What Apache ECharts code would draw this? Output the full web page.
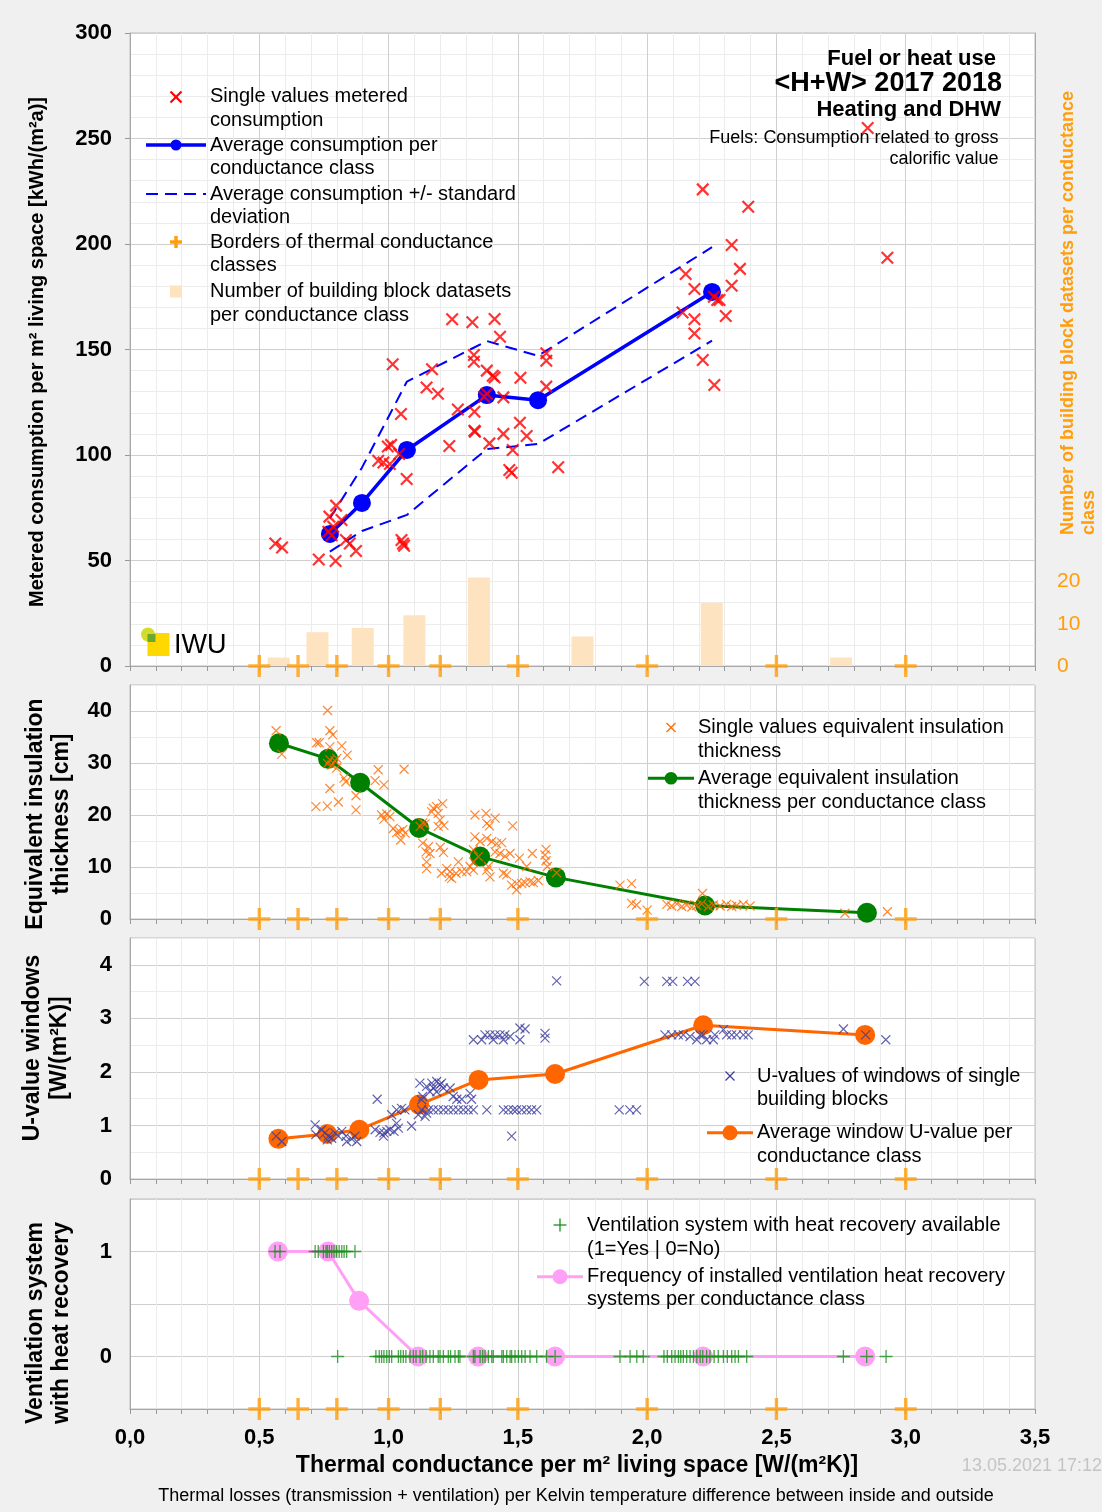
<!DOCTYPE html>
<html><head><meta charset="utf-8">
<script src="https://cdn.jsdelivr.net/npm/echarts@6/dist/echarts.min.js"></script>
<style>html,body{margin:0;padding:0;background:#f0f0f0}#c{width:1102px;height:1512px}</style>
</head><body><div id="c"></div>
<script>
// ---------- DATA ----------
const xTickValues = [0, 0.5, 1, 1.5, 2, 2.5, 3, 3.5];
const classBorders = [0.5, 0.65, 0.8, 1.0, 1.2, 1.5, 2.0, 2.5, 3.0];
const classCenters = [0.575, 0.725, 0.9, 1.1, 1.35, 1.75, 2.25, 2.75];
const datasetCounts = [2, 8, 9, 12, 21, 7, 15, 2];
const rightAxisLabels = [0, 10, 20];

const consumptionPoints = [
 [0.562,58.1],[0.588,56.2],[0.73,50.5],[0.795,49.8],[0.767,63.6],[0.78,62],[0.786,66],[0.771,70.8],[0.797,76],[0.818,69.2],[0.835,59.7],[0.85,58.1],[0.874,54.5],
 [0.96,97.3],[0.98,96.4],[1.005,95.7],[0.997,104],[1.01,104.8],[1.041,100.5],[1.048,119.4],[1.016,143],[1.07,88.6],[1.05,59.7],[1.056,58],[1.06,57],
 [1.147,132],[1.168,140.6],[1.191,129],[1.235,104.3],[1.246,164.3],[1.268,121.6],[1.324,162.9],[1.33,147.4],[1.33,144.2],[1.332,120.5],[1.332,111.5],[1.334,111],
 [1.37,127.6],[1.38,129],[1.38,140],[1.403,137.6],[1.41,136.8],[1.41,164.5],[1.431,156],[1.444,127.3],[1.39,105.5],[1.444,110],[1.48,102.4],[1.467,92.9],[1.476,91.6],
 [1.508,115.3],[1.51,136.6],[1.534,109],[1.61,148.2],[1.61,144.7],[1.61,132.4],[1.656,94.2],
 [2.137,167.5],[2.149,185.8],[2.183,178.7],[2.183,164.3],[2.183,157.6],[2.215,225.9],[2.215,145],[2.258,175],[2.271,173.5],[2.28,173.5],[2.26,133.2],
 [2.304,165.9],[2.327,199.5],[2.327,180.2],[2.359,188.2],[2.391,217.7],[2.853,255],[2.929,193.5]
];
const avgConsX = [0.773, 0.897, 1.071, 1.38, 1.578, 2.251];
const avgCons = [62.6, 77.3, 102.4, 128.4, 126, 177.3];
const avgConsPlusSd = [70, 94, 134.8, 154, 147, 198.5];
const avgConsMinusSd = [54.2, 64, 71.6, 102.8, 105.2, 154.2];

const insulationPoints = [
 [0.565,36.2],[0.587,31.7],[0.764,40.1],[0.773,36.2],[0.784,35.4],[0.722,33.9],[0.732,33.9],[0.773,33.1],[0.819,33.3],[0.84,31.5],
 [0.773,30.6],[0.793,30.4],[0.8,30.9],[0.764,29.9],[0.78,29.6],[0.799,29],[0.96,28.7],[1.06,28.8],[0.828,27.1],[0.835,26.4],[0.948,26.6],[0.982,25.8],[0.773,25.1],[0.874,23.7],[0.719,21.6],[0.763,21.7],[0.806,22.5],[0.874,21],
 [0.973,20],[0.993,20.2],[1.005,19.7],[0.982,19.2],[1.018,17.4],[1.042,16.8],[1.055,17.2],[1.031,16.6],[1.047,15.2],[1.064,16.5],[1.132,18.5],[1.122,17.8],[1.141,18.3],
 [1.173,21.3],[1.186,21.6],[1.167,20.6],[1.209,22.2],[1.192,20.3],[1.199,19],[1.214,18],[1.192,17.8],
 [1.132,14.6],[1.154,13.9],[1.145,12.9],[1.16,12.6],[1.147,11],[1.147,9.7],[1.2,13.8],[1.212,12.8],
 [1.205,8.8],[1.225,9.7],[1.238,9.1],[1.244,7.8],[1.235,8.1],[1.27,11],[1.261,8.8],[1.283,9.1],[1.302,9.1],[1.315,10.1],[1.328,9.4],
 [1.334,20],[1.377,20.3],[1.412,19.4],[1.38,18.4],[1.39,17.9],[1.334,15.8],[1.354,14.9],[1.38,15.5],[1.399,14.9],[1.418,14.5],[1.437,14.7],
 [1.328,13.3],[1.347,12],[1.328,11],[1.386,10.1],[1.38,9.4],[1.392,8.1],[1.412,12.9],[1.431,12.6],[1.45,12.1],[1.47,12.6],
 [1.444,8.8],[1.457,8.5],[1.476,6.5],[1.495,6.8],[1.515,6.8],[1.528,7],[1.547,7.2],[1.56,7],[1.579,7.4],[1.48,17.9],[1.506,11.7],[1.534,10.1],[1.556,12.6],
 [1.609,13.4],[1.605,12.3],[1.609,11.2],[1.614,10.1],[1.65,8.9],[1.495,5.6],
 [1.895,6.5],[1.94,6.8],[1.94,3],[1.959,2.7],[2.0,1.7],
 [2.076,2.8],[2.095,2.5],[2.115,2.9],[2.134,2.4],[2.153,2.7],[2.173,2.3],[2.192,2.6],[2.211,2.9],[2.237,2.4],[2.256,2.7],[2.282,2.5],[2.307,2.8],[2.327,2.4],[2.346,2.6],[2.372,2.8],[2.398,2.5],
 [2.214,4.9],[2.765,1.1],[2.929,1.4]
];
const avgInsX = [0.576, 0.766, 0.89, 1.118, 1.354, 1.647, 2.224, 2.85];
const avgIns = [33.8, 30.8, 26.2, 17.5, 12, 8, 2.6, 1.2];

const uValuePoints = [
 [0.565,0.8],[0.587,0.7],
 [0.716,1.01],[0.719,0.83],[0.741,0.92],[0.754,0.86],[0.767,0.8],[0.78,0.76],[0.793,0.86],[0.806,0.8],[0.819,0.89],[0.835,0.8],[0.838,0.7],[0.857,0.75],[0.87,0.8],[0.877,0.7],[0.763,0.73],
 [0.956,1.49],[0.948,0.92],[0.967,0.87],[0.98,0.8],[0.993,0.89],[1.005,0.92],[1.021,0.89],[1.038,0.95],[0.982,0.86],
 [1.012,1.2],[1.031,1.04],[1.089,0.99],[1.031,1.29],[1.05,1.32],[1.063,1.29],
 [1.121,1.79],[1.147,1.73],[1.167,1.79],[1.186,1.82],[1.199,1.76],[1.205,1.79],[1.173,1.7],[1.16,1.63],[1.186,1.63],[1.212,1.7],
 [1.238,1.7],[1.25,1.54],[1.264,1.49],[1.283,1.49],[1.315,1.6],[1.321,1.49],[1.115,1.2],[1.128,1.29],[1.147,1.23],[1.141,1.17],[1.128,1.48],[1.132,1.54],
 [1.154,1.29],[1.173,1.29],[1.192,1.29],[1.212,1.29],[1.231,1.29],[1.25,1.29],[1.27,1.29],[1.289,1.29],[1.308,1.29],[1.328,1.29],[1.38,1.29],
 [1.444,1.29],[1.463,1.29],[1.482,1.29],[1.495,1.29],[1.515,1.29],[1.534,1.29],[1.553,1.29],[1.573,1.29],[1.476,0.8],
 [1.328,2.6],[1.373,2.69],[1.392,2.69],[1.412,2.69],[1.431,2.69],[1.45,2.69],[1.47,2.66],[1.36,2.6],[1.405,2.6],[1.444,2.6],[1.508,2.6],[1.508,2.82],[1.528,2.8],[1.605,2.72],[1.605,2.63],
 [1.65,3.7],[1.892,1.29],[1.933,1.29],[1.959,1.29],
 [1.989,3.69],[2.076,3.69],[2.099,3.69],[2.156,3.69],[2.185,3.69],
 [2.069,2.69],[2.095,2.69],[2.121,2.69],[2.14,2.69],[2.166,2.66],[2.192,2.6],[2.205,2.69],[2.23,2.6],[2.256,2.6],[2.262,2.69],[2.295,2.79],[2.307,2.69],[2.327,2.69],[2.346,2.69],[2.372,2.69],[2.391,2.69],[2.217,2.69],
 [2.759,2.8],[2.845,2.69],[2.923,2.6]
];
const avgUX = [0.574, 0.763, 0.887, 1.118, 1.348, 1.644, 2.217, 2.843];
const avgU = [0.75, 0.84, 0.92, 1.39, 1.85, 1.96, 2.87, 2.69];

const ventYesX = [0.561,0.58,0.716,0.728,0.748,0.758,0.763,0.771,0.78,0.789,0.799,0.809,0.819,0.828,0.838,0.87];
const ventNoX = [0.803,0.951,0.964,0.973,0.982,0.993,1.003,1.012,1.038,1.047,1.057,1.067,1.083,1.096,1.106,1.122,1.132,1.145,1.16,1.173,1.192,1.199,1.212,1.231,1.24,1.257,1.27,1.276,
 1.328,1.334,1.354,1.364,1.373,1.386,1.399,1.405,1.438,1.444,1.457,1.47,1.476,1.489,1.502,1.515,1.528,1.547,1.573,1.611,1.644,1.895,1.934,1.96,1.985,
 2.065,2.078,2.095,2.108,2.121,2.13,2.14,2.153,2.166,2.179,2.192,2.205,2.215,2.23,2.243,2.259,2.275,2.295,2.31,2.327,2.34,2.353,2.385,2.759,2.849,2.924];
const avgVentX = [0.572, 0.766, 0.886, 1.114, 1.346, 1.644, 2.216, 2.843];
const avgVent = [1, 1, 0.53, 0, 0, 0, 0, 0];

const borderMarkerLevel = [0, 0, 0, -0.5];

// ---------- RENDER ----------
const FONT = '"Liberation Sans", Arial, Helvetica, sans-serif';
const zip = (xs, ys) => xs.map((x, i) => [x, ys[i]]);
const XSYM = 'path://M0,0L10,10M10,0L0,10';
const PSYM = 'path://M5,0L5,10M0,5L10,5';
const BIGPLUS = 'path://M0,9.3H9.3V0H12.7V9.3H22V12.7H12.7V22H9.3V12.7H0Z';
const ORANGE = '#ff9d0a';

const grids = [
  {left:130, top:33, width:905, height:633},
  {left:130, top:685, width:905, height:234},
  {left:130, top:938, width:905, height:241},
  {left:130, top:1199, width:905, height:210}
].map(g => Object.assign(g, {show:true, backgroundColor:'#ffffff', borderColor:'#bdbdbd', borderWidth:1, containLabel:false, outerBoundsMode:'none'}));

function xAx(gi, labels) {
  return {
    type:'value', gridIndex:gi, min:0, max:3.5, interval:0.5,
    axisLine:{show:true, onZero:false, lineStyle:{color:'#a8a8a8'}},
    axisTick:{show:true, length:5, lineStyle:{color:'#999'}},
    minorTick:{show:true, splitNumber:5, length:5, lineStyle:{color:'#999'}},
    splitLine:{show:true, lineStyle:{color:'#cfcfcf'}},
    minorSplitLine:{show:true, lineStyle:{color:'#ececec'}},
    axisLabel:{show:labels, fontFamily:FONT, fontSize:22, fontWeight:'bold', color:'#000', margin:18,
      formatter: v => xTickValues.some(t => Math.abs(t - v) < 1e-6) ? v.toFixed(1).replace('.', ',') : ''}
  };
}
const yLabel = {fontFamily:FONT, fontSize:22, fontWeight:'bold', color:'#000', margin:18};
const yAxes = [
  {type:'value', gridIndex:0, min:0, max:300, interval:50,
   axisLine:{show:true, onZero:false, lineStyle:{color:'#a8a8a8'}}, axisTick:{show:true, length:5, lineStyle:{color:'#999'}},
   minorTick:{show:false, splitNumber:5}, splitLine:{show:true, lineStyle:{color:'#cfcfcf'}},
   minorSplitLine:{show:true, lineStyle:{color:'#ececec'}}, axisLabel:yLabel},
  {type:'value', gridIndex:0, position:'right', min:0, max:150, interval:10,
   axisLine:{show:true, onZero:false, lineStyle:{color:'#a8a8a8'}}, axisTick:{show:false}, splitLine:{show:false},
   axisLabel:{fontFamily:FONT, fontSize:21, color:ORANGE, margin:22,
     formatter: v => rightAxisLabels.indexOf(v) >= 0 ? String(v) : ''}},
  {type:'value', gridIndex:1, min:0, max:45, interval:5,
   axisLine:{show:true, onZero:false, lineStyle:{color:'#a8a8a8'}}, axisTick:{show:false},
   splitLine:{show:true, lineStyle:{color:['#cfcfcf', '#ececec']}},
   axisLabel:Object.assign({}, yLabel, {formatter: v => (v % 10 === 0 && v <= 40) ? String(v) : ''})},
  {type:'value', gridIndex:2, min:0, max:4.5, interval:0.5,
   axisLine:{show:true, onZero:false, lineStyle:{color:'#a8a8a8'}}, axisTick:{show:false},
   splitLine:{show:true, lineStyle:{color:['#cfcfcf', '#ececec']}},
   axisLabel:Object.assign({}, yLabel, {formatter: v => (Math.abs(v - Math.round(v)) < 1e-6 && v <= 4) ? String(Math.round(v)) : ''})},
  {type:'value', gridIndex:3, min:-0.5, max:1.5, interval:0.5,
   axisLine:{show:true, onZero:false, lineStyle:{color:'#a8a8a8'}}, axisTick:{show:false},
   splitLine:{show:true, lineStyle:{color:'#cfcfcf'}},
   axisLabel:Object.assign({}, yLabel, {formatter: v => (v === 0 || v === 1) ? String(v) : ''})}
];

const series = [];
// panel 1
series.push({type:'bar', xAxisIndex:0, yAxisIndex:1, data:zip(classCenters, datasetCounts), barWidth:22,
  itemStyle:{color:'#fde3bf'}, z:1, silent:true});
series.push({type:'line', xAxisIndex:0, yAxisIndex:0, data:zip(avgConsX, avgConsPlusSd), symbol:'none',
  lineStyle:{color:'#0000ff', width:2, type:[12,7]}, z:3});
series.push({type:'line', xAxisIndex:0, yAxisIndex:0, data:zip(avgConsX, avgConsMinusSd), symbol:'none',
  lineStyle:{color:'#0000ff', width:2, type:[12,7]}, z:3});
series.push({type:'line', xAxisIndex:0, yAxisIndex:0, data:zip(avgConsX, avgCons), symbol:'circle', symbolSize:18,
  lineStyle:{color:'#0000ff', width:3.5}, itemStyle:{color:'#0000ff'}, z:4});
series.push({type:'scatter', xAxisIndex:0, yAxisIndex:0, data:consumptionPoints, symbol:XSYM, symbolSize:11.5, clip:false,
  itemStyle:{color:'rgba(0,0,0,0)', borderColor:'#ff0000', borderWidth:2.2}, z:5});
// panel 2
series.push({type:'line', xAxisIndex:1, yAxisIndex:2, data:zip(avgInsX, avgIns), symbol:'circle', symbolSize:20,
  lineStyle:{color:'#008000', width:3}, itemStyle:{color:'#008000'}, z:3});
series.push({type:'scatter', xAxisIndex:1, yAxisIndex:2, data:insulationPoints, symbol:XSYM, symbolSize:9, clip:false,
  itemStyle:{color:'rgba(0,0,0,0)', borderColor:'#ff6a00', borderWidth:1.2}, z:5});
// panel 3
series.push({type:'line', xAxisIndex:2, yAxisIndex:3, data:zip(avgUX, avgU), symbol:'circle', symbolSize:20,
  lineStyle:{color:'#ff6600', width:3}, itemStyle:{color:'#ff6600'}, z:3});
series.push({type:'scatter', xAxisIndex:2, yAxisIndex:3, data:uValuePoints, symbol:XSYM, symbolSize:9, clip:false,
  itemStyle:{color:'rgba(0,0,0,0)', borderColor:'#3c3c9c', borderWidth:1.2}, z:5});
// panel 4
series.push({type:'line', xAxisIndex:3, yAxisIndex:4, data:zip(avgVentX, avgVent), symbol:'circle', symbolSize:20,
  lineStyle:{color:'#ffa0f6', width:3}, itemStyle:{color:'#ffa0f6'}, z:3});
series.push({type:'scatter', xAxisIndex:3, yAxisIndex:4,
  data:ventYesX.map(x => [x, 1]).concat(ventNoX.map(x => [x, 0])), symbol:PSYM, symbolSize:13, clip:false,
  itemStyle:{color:'rgba(0,0,0,0)', borderColor:'#1a8f1a', borderWidth:1.3}, z:5});
// class border markers
borderMarkerLevel.forEach((lvl, gi) => {
  series.push({type:'scatter', xAxisIndex:gi, yAxisIndex: gi === 0 ? 0 : gi + 1,
    data:classBorders.map(x => [x, lvl]), symbol:BIGPLUS, symbolSize:22, clip:false,
    itemStyle:{color:ORANGE}, z:6});
});

// ---------- graphic texts & legends ----------
function txt(x, y, text, font, opts) {
  opts = opts || {};
  const align = opts.align || 'left', va = opts.va || 'middle';
  return {type:'text', x:x, y:y, rotation:opts.rot || 0, z:100,
    style:{text:text, font:font, fill:opts.color || '#000', align:align, textAlign:align,
      verticalAlign:va, textVerticalAlign:va, lineHeight:opts.lh || undefined}};
}
function xIcon(cx, cy, s, color, w) {
  return [
    {type:'line', z:100, shape:{x1:cx - s/2, y1:cy - s/2, x2:cx + s/2, y2:cy + s/2}, style:{stroke:color, lineWidth:w}},
    {type:'line', z:100, shape:{x1:cx + s/2, y1:cy - s/2, x2:cx - s/2, y2:cy + s/2}, style:{stroke:color, lineWidth:w}}
  ];
}
function lineIcon(x1, x2, cy, r, color, w, dash) {
  const arr = [{type:'line', z:100, shape:{x1:x1, y1:cy, x2:x2, y2:cy}, style:{stroke:color, lineWidth:w, lineDash:dash || null}}];
  if (r) arr.push({type:'circle', z:101, shape:{cx:(x1 + x2) / 2, cy:cy, r:r}, style:{fill:color}});
  return arr;
}
const F20 = '20px ' + FONT;
const B20 = 'bold 20px ' + FONT;
const B23 = 'bold 23px ' + FONT;
let g = [];
// panel 1 legend
g = g.concat(xIcon(176, 97, 11, '#ff0000', 2.2));
g = g.concat(lineIcon(146, 206, 145, 5.5, '#0000ff', 3.5));
g = g.concat(lineIcon(146, 206, 194, 0, '#0000ff', 2, [12, 7]));
g.push({type:'rect', z:100, shape:{x:170, y:240.3, width:12, height:3.4}, style:{fill:ORANGE}});
g.push({type:'rect', z:100, shape:{x:174.3, y:236, width:3.4, height:12}, style:{fill:ORANGE}});
g.push({type:'rect', z:100, shape:{x:170, y:285.5, width:12, height:12}, style:{fill:'#fde3bf'}});
g.push(txt(210, 85, 'Single values metered\nconsumption', F20, {va:'top', lh:23.5}));
g.push(txt(210, 133.3, 'Average consumption per\nconductance class', F20, {va:'top', lh:23.5}));
g.push(txt(210, 182.3, 'Average consumption +/- standard\ndeviation', F20, {va:'top', lh:23.5}));
g.push(txt(210, 230.5, 'Borders of thermal conductance\nclasses', F20, {va:'top', lh:23.5}));
g.push(txt(210, 280, 'Number of building block datasets\nper conductance class', F20, {va:'top', lh:23.5}));
// title block
g.push(txt(996, 58.5, 'Fuel or heat use', 'bold 22px ' + FONT, {align:'right'}));
g.push(txt(1002, 84, '<H+W> 2017 2018', 'bold 27px ' + FONT, {align:'right'}));
g.push(txt(1001, 109.5, 'Heating and DHW', 'bold 22px ' + FONT, {align:'right'}));
g.push(txt(998.5, 138.5, 'Fuels: Consumption related to gross', '18px ' + FONT, {align:'right'}));
g.push(txt(998.5, 159.5, 'calorific value', '18px ' + FONT, {align:'right'}));
// IWU logo
g.push({type:'rect', z:100, shape:{x:147.5, y:633, width:22, height:23}, style:{fill:'#ffd800'}});
g.push({type:'circle', z:101, shape:{cx:148, cy:634.5, r:7}, style:{fill:'#d4dc2a'}});
g.push({type:'rect', z:102, shape:{x:147.5, y:634, width:8, height:8}, style:{fill:'#6aa832'}});
g.push(txt(174, 646, 'IWU', '27px "Liberation Sans Narrow", ' + FONT, {}));
// panel 2 legend
g = g.concat(xIcon(671, 727.5, 9, '#ff6a00', 1.2));
g = g.concat(lineIcon(648, 694, 778.3, 6.3, '#008000', 3));
g.push(txt(698, 715.5, 'Single values equivalent insulation\nthickness', F20, {va:'top', lh:23.7}));
g.push(txt(698, 766.5, 'Average equivalent insulation\nthickness per conductance class', F20, {va:'top', lh:23.7}));
// panel 3 legend
g = g.concat(xIcon(730, 1076, 9, '#3c3c9c', 1.2));
g = g.concat(lineIcon(707, 753, 1132.7, 7.5, '#ff6600', 3));
g.push(txt(757, 1064.3, 'U-values of windows of single\nbuilding blocks', F20, {va:'top', lh:23.4}));
g.push(txt(757, 1121, 'Average window U-value per\nconductance class', F20, {va:'top', lh:23.4}));
// panel 4 legend
g.push({type:'line', z:100, shape:{x1:560, y1:1218.5, x2:560, y2:1231.5}, style:{stroke:'#1a8f1a', lineWidth:1.3}});
g.push({type:'line', z:100, shape:{x1:553.5, y1:1225, x2:566.5, y2:1225}, style:{stroke:'#1a8f1a', lineWidth:1.3}});
g = g.concat(lineIcon(537, 583, 1276.7, 7.5, '#ffa0f6', 3));
g.push(txt(587, 1213, 'Ventilation system with heat recovery available\n(1=Yes | 0=No)', F20, {va:'top', lh:24.2}));
g.push(txt(587, 1264.7, 'Frequency of installed ventilation heat recovery\nsystems per conductance class', F20, {va:'top', lh:23.4}));
// axis names
const R = Math.PI / 2;
g.push(txt(37, 352, 'Metered consumption per m² living space [kWh/(m²a)]', B20, {align:'center', rot:R}));
g.push(txt(1068, 535, 'Number of building block datasets per conductance', 'bold 18px ' + FONT, {align:'left', rot:R, color:ORANGE}));
g.push(txt(1089, 535, 'class', 'bold 18px ' + FONT, {align:'left', rot:R, color:ORANGE}));
g.push(txt(48.5, 814, 'Equivalent insulation\nthickness [cm]', B23, {align:'center', rot:R, lh:26}));
g.push(txt(46.5, 1048, 'U-value windows\n[W/(m²K)]', B23, {align:'center', rot:R, lh:27}));
g.push(txt(49, 1323, 'Ventilation system\nwith heat recovery', B23, {align:'center', rot:R, lh:26}));
g.push(txt(577, 1466, 'Thermal conductance per m² living space [W/(m²K)]', 'bold 23px ' + FONT, {align:'center'}));
g.push(txt(576, 1496, 'Thermal losses (transmission + ventilation) per Kelvin temperature difference between inside and outside', '18px ' + FONT, {align:'center'}));
g.push(txt(1102, 1466, '13.05.2021 17:12', '18px ' + FONT, {align:'right', color:'#c4c4c4'}));

const chart = echarts.init(document.getElementById('c'), null, {renderer:'canvas', width:1102, height:1512});
chart.setOption({
  animation:false,
  backgroundColor:'#f0f0f0',
  grid:grids,
  xAxis:[xAx(0,false), xAx(1,false), xAx(2,false), xAx(3,true)],
  yAxis:yAxes,
  series:series,
  graphic:{elements:g}
});
</script></body></html>
